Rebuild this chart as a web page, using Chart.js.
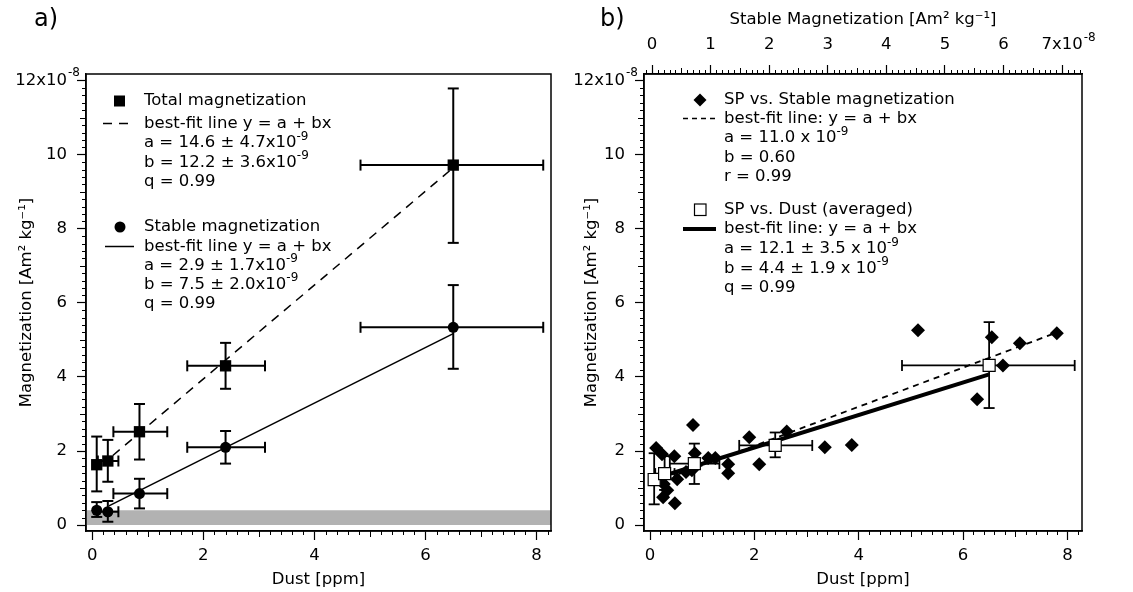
<!DOCTYPE html>
<html>
<head>
<meta charset="utf-8">
<script src="https://cdn.jsdelivr.net/npm/chart.js@4.4.1/dist/chart.umd.min.js"></script>
<style>
  html, body { margin: 0; padding: 0; background: #fff; }
  #wrap { position: relative; width: 1133px; height: 592px; }
  canvas { position: absolute; left: 0; top: 0; }
</style>
</head>
<body>
<div id="wrap">
  <canvas id="chartA" width="1133" height="592"></canvas>
  <canvas id="chartB" width="1133" height="592"></canvas>
</div>
<script>
// ---- panel a) magnetization vs dust (values in 1e-8 Am2/kg) ----
const dustA = [0.08, 0.28, 0.85, 2.4, 6.5];
const dustLoA = [0.08, 0.10, 0.38, 1.71, 4.83];
const dustHiA = [0.08, 0.47, 1.35, 3.11, 8.12];
const totalMag = [1.63, 1.73, 2.52, 4.30, 9.72];
const totalLo = [0.91, 1.17, 1.77, 3.68, 7.62];
const totalHi = [2.39, 2.30, 3.27, 4.92, 11.79];
const stableMag = [0.40, 0.36, 0.85, 2.10, 5.34];
const stableLo = [0.22, 0.09, 0.45, 1.66, 4.22];
const stableHi = [0.62, 0.65, 1.25, 2.54, 6.48];
const totalFitX = [0.37, 6.5];
const totalFitY = [1.88, 9.65];
const stableFitX = [0.30, 6.5];
const stableFitY = [0.52, 5.17];
const bandX = [-0.2, 8.4];
const bandTop = 0.4;

// ---- panel b) SP magnetization ----
const dustB = [0.08, 0.28, 0.85, 2.4, 6.5];
const dustLoB = [0.08, 0.10, 0.38, 1.71, 4.83];
const dustHiB = [0.08, 0.47, 1.33, 3.11, 8.14];
const spDust = [1.23, 1.39, 1.66, 2.15, 4.31];
const spDustLo = [0.56, 0.95, 1.11, 1.83, 3.16];
const spDustHi = [1.94, 1.86, 2.20, 2.50, 5.48];
// diamonds: x on the top axis (stable magnetization)
const stableB = [0.07, 0.17, 0.38, 0.70, 0.73, 0.96, 1.08, 1.30, 1.30, 0.20, 0.26, 0.19, 0.39, 0.43,
  0.58, 0.68, 1.66, 1.83, 2.30, 2.95, 3.41, 4.54, 5.55, 5.80, 5.99, 6.28, 6.91];
const spStable = [2.08, 1.91, 1.86, 2.70, 1.94, 1.81, 1.81, 1.64, 1.40, 1.11, 0.94, 0.75, 0.59, 1.24,
  1.43, 1.48, 2.37, 1.64, 2.53, 2.10, 2.16, 5.26, 3.40, 5.07, 4.31, 4.91, 5.18];
const spFitX = [0.06, 6.91];
const spFitY = [1.14, 5.20];
const dustFitX = [0.08, 6.5];
const dustFitY = [1.25, 4.07];

// ticks
const dustTicks = [0, 2, 4, 6, 8];
const magTicks = [0, 2, 4, 6, 8, 10, 12];
const stableTicks = [0, 1, 2, 3, 4, 5, 6, 7];

// legend texts (^{..} = superscript)
const legendA1 = ['Total magnetization', 'best-fit line y = a + bx', 'a = 14.6 \u00b1 4.7x10^{-9}', 'b = 12.2 \u00b1 3.6x10^{-9}', 'q = 0.99'];
const legendA2 = ['Stable magnetization', 'best-fit line y = a + bx', 'a = 2.9 \u00b1 1.7x10^{-9}', 'b = 7.5 \u00b1 2.0x10^{-9}', 'q = 0.99'];
const legendB1 = ['SP vs. Stable magnetization', 'best-fit line: y = a + bx', 'a = 11.0 x 10^{-9}', 'b = 0.60', 'r = 0.99'];
const legendB2 = ['SP vs. Dust (averaged)', 'best-fit line: y = a + bx', 'a = 12.1 \u00b1 3.5 x 10^{-9}', 'b = 4.4 \u00b1 1.9 x 10^{-9}', 'q = 0.99'];

const FONT = 'DejaVu Sans';
const FS = 16.5;
const TICK_LEN = 9;
const font = { family: FONT, size: FS };

function pts(xs, ys) {
  return xs.map((x, i) => ({ x, y: ys[i] }));
}

function richText(ctx, str, x, y, size) {
  const parts = str.split(/\^\{([^}]*)\}/);
  let cx = x;
  parts.forEach((p, i) => {
    if (!p) return;
    const sup = i % 2 === 1;
    ctx.font = (sup ? Math.round(size * 0.7) : size) + 'px "' + FONT + '"';
    ctx.fillText(p, cx, sup ? y - size * 0.38 : y);
    cx += ctx.measureText(p).width;
  });
}

// box around the plot area
const framePlugin = {
  id: 'frame',
  afterDraw(chart) {
    const a = chart.chartArea, ctx = chart.ctx;
    ctx.save();
    ctx.strokeStyle = '#000';
    ctx.lineWidth = 1.5;
    ctx.strokeRect(a.left, a.top, a.right - a.left, a.bottom - a.top);
    ctx.restore();
  }
};

// minor / medium tick marks (majors come from chart.js)
const minorTicksPlugin = {
  id: 'minorTicks',
  afterDraw(chart, args, opts) {
    const ctx = chart.ctx, area = chart.chartArea;
    ctx.save();
    ctx.strokeStyle = '#000';
    ctx.lineWidth = 1;
    opts.axes.forEach(a => {
      const sc = chart.scales[a.id];
      const n0 = Math.ceil(sc.min / a.minor - 1e-9), n1 = Math.floor(sc.max / a.minor + 1e-9);
      for (let n = n0; n <= n1; n++) {
        const v = n * a.minor;
        if (Math.abs(v / a.major - Math.round(v / a.major)) < 1e-6) continue;
        const len = Math.abs(v / a.medium - Math.round(v / a.medium)) < 1e-6 ? 6 : 4;
        const p = Math.round(sc.getPixelForValue(v)) + 0.5;
        ctx.beginPath();
        if (sc.position === 'bottom') { ctx.moveTo(p, area.bottom); ctx.lineTo(p, area.bottom + len); }
        else if (sc.position === 'top') { ctx.moveTo(p, area.top); ctx.lineTo(p, area.top - len); }
        else { ctx.moveTo(area.left, p); ctx.lineTo(area.left - len, p); }
        ctx.stroke();
      }
    });
    ctx.restore();
  }
};

// the "-8" exponent next to the last tick label
const exponentPlugin = {
  id: 'exponents',
  afterDraw(chart, args, opts) {
    const ctx = chart.ctx;
    ctx.save();
    ctx.fillStyle = '#000';
    ctx.textBaseline = 'middle';
    ctx.textAlign = 'left';
    opts.items.forEach(it => {
      const sc = chart.scales[it.axis];
      const p = sc.getPixelForValue(it.value);
      ctx.font = FS + 'px "' + FONT + '"';
      const w = ctx.measureText(it.label).width;
      let x, y;
      if (sc.isHorizontal()) {
        x = p + w / 2 + 1;
        y = chart.chartArea.top - TICK_LEN - it.pad - FS * 0.6 - 7;
      } else {
        x = chart.chartArea.left - TICK_LEN - it.pad + 1;
        y = p - 8;
      }
      ctx.font = '12px "' + FONT + '"';
      ctx.fillText(it.text, x, y);
    });
    ctx.restore();
  }
};

// error bars, drawn just before the marker datasets
const errorBarPlugin = {
  id: 'errorBars',
  beforeDatasetDraw(chart, args, opts) {
    if (args.index !== opts.beforeIndex) return;
    const ctx = chart.ctx;
    ctx.save();
    ctx.strokeStyle = '#000';
    ctx.lineWidth = opts.width;
    const seg = (x1, y1, x2, y2) => { ctx.beginPath(); ctx.moveTo(x1, y1); ctx.lineTo(x2, y2); ctx.stroke(); };
    opts.sets.forEach(s => {
      const xs = chart.scales.x, ys = chart.scales.y;
      s.x.forEach((xv, i) => {
        const px = xs.getPixelForValue(xv), py = ys.getPixelForValue(s.y[i]);
        const y1 = ys.getPixelForValue(s.yLo[i]), y2 = ys.getPixelForValue(s.yHi[i]);
        seg(px, y1, px, y2);
        seg(px - opts.cap, y1, px + opts.cap, y1);
        seg(px - opts.cap, y2, px + opts.cap, y2);
        if (s.xLo[i] !== s.xHi[i]) {
          const x1 = xs.getPixelForValue(s.xLo[i]), x2 = xs.getPixelForValue(s.xHi[i]);
          seg(x1, py, x2, py);
          seg(x1, py - opts.cap, x1, py + opts.cap);
          seg(x2, py - opts.cap, x2, py + opts.cap);
        }
      });
    });
    ctx.restore();
  }
};

function drawLegendGroup(ctx, lines, y0, textX, rows, markerFn, sample) {
  ctx.fillStyle = '#000';
  ctx.textBaseline = 'middle';
  ctx.textAlign = 'left';
  lines.forEach((t, i) => richText(ctx, t, textX, y0 + rows[i], FS));
  markerFn(y0);
  ctx.save();
  ctx.strokeStyle = '#000';
  ctx.lineWidth = sample.width;
  ctx.setLineDash(sample.dash);
  ctx.beginPath();
  ctx.moveTo(sample.x1, y0 + rows[1]);
  ctx.lineTo(sample.x2, y0 + rows[1]);
  ctx.stroke();
  ctx.restore();
}

const legendPluginA = {
  id: 'legendA',
  afterDraw(chart) {
    const ctx = chart.ctx;
    ctx.save();
    const rows = [0, 22.5, 42, 61.5, 81];
    drawLegendGroup(ctx, legendA1, 101, 144, rows, y => {
      ctx.fillRect(114, y - 5.5, 11, 11);
    }, { x1: 103, x2: 134, width: 1.5, dash: [9, 7] });
    drawLegendGroup(ctx, legendA2, 227, 144, [0, 19.5, 38.5, 57.5, 77], y => {
      ctx.beginPath(); ctx.arc(120, y, 5.5, 0, Math.PI * 2); ctx.fill();
    }, { x1: 105, x2: 134, width: 1.5, dash: [] });
    ctx.font = '24px "' + FONT + '"';
    ctx.fillText('a)', 34, 20);
    ctx.restore();
  }
};

const legendPluginB = {
  id: 'legendB',
  afterDraw(chart) {
    const ctx = chart.ctx;
    ctx.save();
    const rows = [0, 18.5, 38, 57.5, 77];
    drawLegendGroup(ctx, legendB1, 100, 724, rows, y => {
      ctx.beginPath();
      ctx.moveTo(700, y - 6.5); ctx.lineTo(706.5, y); ctx.lineTo(700, y + 6.5); ctx.lineTo(693.5, y);
      ctx.closePath(); ctx.fill();
    }, { x1: 683, x2: 716, width: 1.5, dash: [5, 4] });
    drawLegendGroup(ctx, legendB2, 210, 724, [0, 19, 39, 58.5, 78], y => {
      ctx.lineWidth = 1.2;
      ctx.strokeStyle = '#000';
      ctx.strokeRect(694.5, y - 6, 11.5, 11.5);
    }, { x1: 683, x2: 716, width: 4, dash: [] });
    ctx.font = '24px "' + FONT + '"';
    ctx.fillStyle = '#000';
    ctx.fillText('b)', 600, 20);
    ctx.restore();
  }
};

function linearAxis(cfg) {
  return {
    type: 'linear',
    position: cfg.position,
    min: cfg.min,
    max: cfg.max,
    afterBuildTicks: s => { s.ticks = cfg.ticks.map(v => ({ value: v })); },
    afterFit: s => { if (cfg.width) s.width = cfg.width; if (cfg.height) s.height = cfg.height; },
    ticks: {
      font, color: '#000', padding: cfg.pad, autoSkip: false, maxRotation: 0,
      callback: v => (v === cfg.expAt ? v + 'x10' : String(v))
    },
    grid: { drawOnChartArea: false, drawTicks: true, tickLength: TICK_LEN, tickWidth: 1.2, tickColor: '#000', color: '#000' },
    border: { display: true, color: '#000', width: 1.5 },
    title: { display: true, text: cfg.title, font: { family: FONT, size: FS }, color: '#000', padding: cfg.titlePad }
  };
}

const commonOpts = {
  responsive: false,
  animation: false,
  devicePixelRatio: 1,
  events: []
};

new Chart(document.getElementById('chartA'), {
  type: 'scatter',
  data: {
    datasets: [
      { label: 'Total magnetization', data: pts(dustA, totalMag), pointStyle: 'rect', pointRadius: 8,
        backgroundColor: '#000', borderColor: '#000', borderWidth: 0 },
      { label: 'Stable magnetization', data: pts(dustA, stableMag), pointStyle: 'circle', pointRadius: 5.5,
        backgroundColor: '#000', borderColor: '#000', borderWidth: 0 },
      { label: 'fit total', data: pts(totalFitX, totalFitY), showLine: true, pointRadius: 0,
        borderColor: '#000', borderWidth: 1.5, borderDash: [9, 7] },
      { label: 'fit stable', data: pts(stableFitX, stableFitY), showLine: true, pointRadius: 0,
        borderColor: '#000', borderWidth: 1.5 },
      { type: 'line', label: 'band', data: pts(bandX, [bandTop, bandTop]), pointRadius: 0, borderWidth: 0,
        fill: { value: 0 }, backgroundColor: '#b2b2b2' }
    ]
  },
  options: Object.assign({}, commonOpts, {
    layout: { padding: { left: 0, top: 74, right: 582, bottom: 0 } },
    scales: {
      x: linearAxis({ position: 'bottom', min: -0.113, max: 8.26, ticks: dustTicks, height: 61, pad: 6,
        title: 'Dust [ppm]', titlePad: { top: 0, bottom: 2 } }),
      y: linearAxis({ position: 'left', min: -0.16, max: 12.18, ticks: magTicks, width: 86, pad: 10, expAt: 12,
        title: 'Magnetization [Am\u00b2 kg\u207b\u00b9]', titlePad: { top: 17, bottom: 0 } })
    },
    plugins: {
      legend: { display: false },
      tooltip: { enabled: false },
      minorTicks: { axes: [{ id: 'x', minor: 0.2, medium: 1, major: 2 }, { id: 'y', minor: 0.2, medium: 1, major: 2 }] },
      exponents: { items: [{ axis: 'y', value: 12, label: '12x10', text: '-8', pad: 10 }] },
      errorBars: {
        beforeIndex: 1, width: 2, cap: 5.5,
        sets: [
          { x: dustA, y: totalMag, xLo: dustLoA, xHi: dustHiA, yLo: totalLo, yHi: totalHi },
          { x: dustA, y: stableMag, xLo: dustLoA, xHi: dustHiA, yLo: stableLo, yHi: stableHi }
        ]
      }
    }
  }),
  plugins: [errorBarPlugin, framePlugin, minorTicksPlugin, exponentPlugin, legendPluginA]
});

new Chart(document.getElementById('chartB'), {
  type: 'scatter',
  data: {
    datasets: [
      { label: 'SP vs. Dust (averaged)', data: pts(dustB, spDust), pointStyle: 'rect', pointRadius: 8.5,
        backgroundColor: '#fff', borderColor: '#000', borderWidth: 1.2 },
      { label: 'SP vs. Stable magnetization', data: pts(stableB, spStable), xAxisID: 'x2', pointStyle: 'rectRot',
        pointRadius: 7, backgroundColor: '#000', borderColor: '#000', borderWidth: 0 },
      { label: 'fit dust', data: pts(dustFitX, dustFitY), showLine: true, pointRadius: 0,
        borderColor: '#000', borderWidth: 4 },
      { label: 'fit stable', data: pts(spFitX, spFitY), xAxisID: 'x2', showLine: true, pointRadius: 0,
        borderColor: '#000', borderWidth: 1.8, borderDash: [6, 5] }
    ]
  },
  options: Object.assign({}, commonOpts, {
    layout: { padding: { left: 574, top: 0, right: 51, bottom: 0 } },
    scales: {
      x: linearAxis({ position: 'bottom', min: -0.115, max: 8.28, ticks: dustTicks, height: 61, pad: 6,
        title: 'Dust [ppm]', titlePad: { top: 0, bottom: 2 } }),
      x2: linearAxis({ position: 'top', min: -0.137, max: 7.34, ticks: stableTicks, height: 74, pad: 10, expAt: 7,
        title: 'Stable Magnetization [Am\u00b2 kg\u207b\u00b9]', titlePad: { top: 10, bottom: 0 } }),
      y: linearAxis({ position: 'left', min: -0.16, max: 12.18, ticks: magTicks, width: 70, pad: 10, expAt: 12,
        title: 'Magnetization [Am\u00b2 kg\u207b\u00b9]', titlePad: { top: 8, bottom: 0 } })
    },
    plugins: {
      legend: { display: false },
      tooltip: { enabled: false },
      minorTicks: { axes: [
        { id: 'x', minor: 0.2, medium: 1, major: 2 },
        { id: 'y', minor: 0.2, medium: 1, major: 2 },
        { id: 'x2', minor: 0.1, medium: 0.5, major: 1 }
      ] },
      exponents: { items: [
        { axis: 'y', value: 12, label: '12x10', text: '-8', pad: 10 },
        { axis: 'x2', value: 7, label: '7x10', text: '-8', pad: 10 }
      ] },
      errorBars: {
        beforeIndex: 0, width: 1.8, cap: 5.5,
        sets: [
          { x: dustB, y: spDust, xLo: dustLoB, xHi: dustHiB, yLo: spDustLo, yHi: spDustHi }
        ]
      }
    }
  }),
  plugins: [errorBarPlugin, framePlugin, minorTicksPlugin, exponentPlugin, legendPluginB]
});
</script>
</body>
</html>
